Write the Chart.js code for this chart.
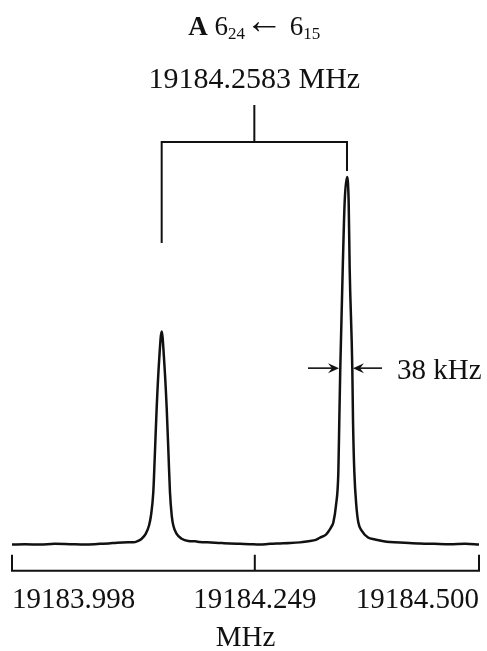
<!DOCTYPE html>
<html>
<head>
<meta charset="utf-8">
<script src="https://cdn.jsdelivr.net/npm/chart.js@4.4.1/dist/chart.umd.min.js"></script>
<style>
    html, body { margin: 0; padding: 0; background: #fff; }
    canvas { display: block; }
</style>
</head>
<body>
<canvas id="spectrum" width="487" height="651"></canvas>
<script>
// Trace: frequency (MHz) and relative intensity
const freqMHz = [
    19183.9980, 19184.0120, 19184.0281, 19184.0440, 19184.0603, 19184.0760, 19184.0926, 19184.1020,
    19184.1109, 19184.1227, 19184.1284, 19184.1334, 19184.1374, 19184.1417, 19184.1453, 19184.1474,
    19184.1499, 19184.1514, 19184.1535, 19184.1563, 19184.1589, 19184.1614, 19184.1643, 19184.1664,
    19184.1678, 19184.1697, 19184.1714, 19184.1750, 19184.1804, 19184.1875, 19184.1950, 19184.2001,
    19184.2080, 19184.2162, 19184.2240, 19184.2323, 19184.2430, 19184.2538, 19184.2640, 19184.2753,
    19184.2860, 19184.2968, 19184.3076, 19184.3183, 19184.3237, 19184.3291, 19184.3355, 19184.3388,
    19184.3414, 19184.3434, 19184.3463, 19184.3488, 19184.3498, 19184.3509, 19184.3535, 19184.3556,
    19184.3581, 19184.3599, 19184.3610, 19184.3638, 19184.3646, 19184.3660, 19184.3681, 19184.3703,
    19184.3739, 19184.3807, 19184.3882, 19184.3960, 19184.4043, 19184.4200, 19184.4366, 19184.4520,
    19184.4688, 19184.4850, 19184.5000
];
const intensity = [
    0.000, 0.001, 0.000, 0.002, 0.001, 0.000, 0.002, 0.003,
    0.005, 0.006, 0.006, 0.010, 0.016, 0.029, 0.052, 0.079,
    0.143, 0.234, 0.371, 0.507, 0.580, 0.507, 0.371, 0.234,
    0.143, 0.079, 0.052, 0.029, 0.016, 0.010, 0.009, 0.007,
    0.006, 0.005, 0.004, 0.003, 0.002, 0.001, 0.000, 0.002,
    0.003, 0.004, 0.006, 0.010, 0.012, 0.019, 0.027, 0.038,
    0.049, 0.060, 0.107, 0.197, 0.333, 0.481, 0.749, 0.932,
    1.000, 0.932, 0.749, 0.481, 0.333, 0.197, 0.107, 0.060,
    0.038, 0.019, 0.014, 0.010, 0.007, 0.005, 0.003, 0.002,
    0.001, 0.002, 0.000
];

// Axis ticks (positions on the drawn scale, labels as printed)
const tickValues = [19183.998, 19184.259, 19184.500];
const tickLabels = ['19183.998', '19184.249', '19184.500'];

// Doppler doublet components and annotations
const peakLeft = 19184.1589;
const peakRight = 19184.3581;
const centerLabel = '19184.2583 MHz';
const widthLabel = '38 kHz';
const widthLevel = 0.48;

const ink = '#111111';
const serif = '"Liberation Serif", "Times New Roman", serif';

function drawArrow(ctx, fromX, toX, y) {
    const dir = Math.sign(toX - fromX);
    ctx.beginPath();
    ctx.moveTo(fromX, y);
    ctx.lineTo(toX - dir * 4, y);
    ctx.stroke();
    // barbed head
    ctx.beginPath();
    ctx.moveTo(toX, y);
    ctx.lineTo(toX - dir * 11, y - 5);
    ctx.lineTo(toX - dir * 7, y);
    ctx.lineTo(toX - dir * 11, y + 5);
    ctx.closePath();
    ctx.fill();
}

const annotationPlugin = {
    id: 'spectrumAnnotations',
    afterDraw(chart) {
        const ctx = chart.ctx;
        const area = chart.chartArea;
        const xs = chart.scales.x;
        const ys = chart.scales.y;

        const xl = xs.getPixelForValue(peakLeft);
        const xr = xs.getPixelForValue(peakRight);
        const xc = (xl + xr) / 2;

        ctx.save();
        ctx.strokeStyle = ink;
        ctx.fillStyle = ink;
        ctx.lineWidth = 2;
        ctx.lineCap = 'square';

        // bracket joining the two components
        ctx.beginPath();
        ctx.moveTo(xc, 106);
        ctx.lineTo(xc, 142);
        ctx.moveTo(xl, 242);
        ctx.lineTo(xl, 142);
        ctx.lineTo(xr, 142);
        ctx.lineTo(xr, 170);
        ctx.stroke();

        // title: A 6_24 <- 6_15
        const parts = [
            { t: 'A', font: 'bold 27px ' + serif, dy: 0 },
            { t: ' 6', font: '27px ' + serif, dy: 0 },
            { t: '24', font: '17px ' + serif, dy: 4 },
            { t: '\u2190', font: '38px ' + serif, dy: -2 },
            { t: ' 6', font: '27px ' + serif, dy: 0 },
            { t: '15', font: '17px ' + serif, dy: 4 }
        ];
        let total = 0;
        parts.forEach(p => {
            ctx.font = p.font;
            p.w = ctx.measureText(p.t).width;
            total += p.w;
        });
        let cx = xc - total / 2;
        ctx.textAlign = 'left';
        ctx.textBaseline = 'alphabetic';
        parts.forEach(p => {
            ctx.font = p.font;
            ctx.fillText(p.t, cx, 35 + p.dy);
            cx += p.w;
        });

        ctx.font = '30px ' + serif;
        ctx.textAlign = 'center';
        ctx.fillText(centerLabel, xc, 88);

        // bottom axis bracket with upward ticks
        const yb = area.bottom;
        ctx.beginPath();
        ctx.moveTo(xs.getPixelForValue(xs.min), yb);
        ctx.lineTo(xs.getPixelForValue(xs.max), yb);
        tickValues.forEach(v => {
            const px = xs.getPixelForValue(v);
            ctx.moveTo(px, yb);
            ctx.lineTo(px, yb - 15);
        });
        ctx.stroke();

        // linewidth marker on the strong component
        ctx.lineCap = 'butt';
        ctx.lineWidth = 1.6;
        const ya = ys.getPixelForValue(widthLevel);
        drawArrow(ctx, xr - 39, xr - 8, ya);
        drawArrow(ctx, xr + 35, xr + 6, ya);
        ctx.font = '29px ' + serif;
        ctx.textAlign = 'left';
        ctx.fillText(widthLabel, xr + 50, ya + 11);

        ctx.restore();
    }
};

const points = freqMHz.map((f, i) => ({ x: f, y: intensity[i] }));

new Chart(document.getElementById('spectrum'), {
    type: 'line',
    data: {
        datasets: [{
            data: points,
            borderColor: ink,
            borderWidth: 2.5,
            borderJoinStyle: 'round',
            pointRadius: 0,
            cubicInterpolationMode: 'monotone',
            fill: false,
            clip: false
        }]
    },
    options: {
        responsive: false,
        animation: false,
        layout: { padding: { top: 177, left: 12, right: 8, bottom: 0 } },
        plugins: {
            legend: { display: false },
            tooltip: { enabled: false }
        },
        scales: {
            x: {
                type: 'linear',
                min: 19183.998,
                max: 19184.500,
                afterBuildTicks: axis => {
                    axis.ticks = tickValues.map(v => ({ value: v }));
                },
                grid: { display: false, drawTicks: false },
                border: { display: false },
                ticks: {
                    align: 'inner',
                    padding: 3,
                    maxRotation: 0,
                    autoSkip: false,
                    color: ink,
                    font: { family: serif, size: 29, lineHeight: 1.8 },
                    callback: (value, index) => tickLabels[index]
                },
                title: {
                    display: true,
                    text: 'MHz',
                    color: ink,
                    font: { family: serif, size: 29, lineHeight: 0.62 },
                    padding: { top: 0, bottom: 4 }
                }
            },
            y: {
                display: false,
                min: -0.0714,
                max: 1.0
            }
        }
    },
    plugins: [annotationPlugin]
});
</script>
</body>
</html>
